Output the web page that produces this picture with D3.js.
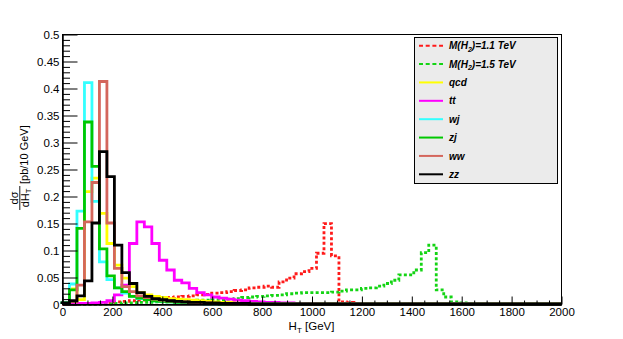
<!DOCTYPE html>
<html>
<head>
<meta charset="utf-8">
<script src="https://cdn.jsdelivr.net/npm/d3@7/dist/d3.min.js"></script>
<style>
    body { margin: 0; background: #fff; }
    svg text { font-family: "Liberation Sans", Arial, Helvetica, sans-serif; }
</style>
</head>
<body>
<div id="chart"></div>
<script>
// histogram bins: 30 GeV wide, first bin starts at 0
const binWidth = 30;

const sig11 = [0, 0, 0, 0, 0, 0.001, 0.002, 0.004, 0.005, 0.006,
    0.007, 0.008, 0.009, 0.011, 0.012, 0.013, 0.014, 0.015, 0.017, 0.018,
    0.020, 0.021, 0.023, 0.025, 0.026, 0.030, 0.031, 0.033, 0.031, 0.041,
    0.048, 0.056, 0.060, 0.066, 0.094, 0.149, 0.089, 0.004, 0.003, 0.001];
const sig15 = [0, 0, 0, 0, 0, 0, 0, 0.001, 0.002, 0.002,
    0.003, 0.003, 0.004, 0.004, 0.005, 0.005, 0.006, 0.006, 0.007, 0.007,
    0.008, 0.008, 0.009, 0.010, 0.012, 0.013, 0.014, 0.015, 0.016, 0.017,
    0.019, 0.020, 0.021, 0.021, 0.021, 0.021, 0.022, 0.024, 0.026, 0.026,
    0.029, 0.030, 0.033, 0.038, 0.044, 0.054, 0.054, 0.063, 0.095, 0.109,
    0.026, 0.013, 0.004, 0.002, 0.001];
const qcd = [0, 0.028, 0.008, 0.208, 0.233, 0.168, 0.112, 0.072, 0.048, 0.032,
    0.021, 0.017, 0.014, 0.012, 0.010, 0.009, 0.008, 0.007, 0.006, 0.005,
    0.004, 0.003, 0.003, 0.002, 0.002, 0.001];
const tt = [0, 0, 0.001, 0.001, 0.002, 0.003, 0.006, 0.017, 0.035, 0.112,
    0.152, 0.143, 0.112, 0.081, 0.063, 0.044, 0.039, 0.029, 0.021, 0.017,
    0.013, 0.011, 0.009, 0.007, 0.006, 0.005, 0.004, 0.003, 0.003, 0.002,
    0.002, 0.001, 0.001, 0.001];
const wj = [0.002, 0.037, 0.172, 0.410, 0.190, 0.078, 0.045, 0.030, 0.020, 0.014,
    0.010, 0.008, 0.006, 0.005, 0.004, 0.003, 0.002, 0.002, 0.001];
const zj = [0.002, 0.026, 0.140, 0.337, 0.255, 0.102, 0.052, 0.030, 0.023, 0.014,
    0.011, 0.008, 0.006, 0.005, 0.004, 0.003, 0.003, 0.002, 0.002, 0.001, 0.001];
const ww = [0, 0.004, 0.035, 0.152, 0.225, 0.412, 0.150, 0.066, 0.032, 0.023,
    0.015, 0.012, 0.009, 0.007, 0.006, 0.005, 0.004, 0.003, 0.002, 0.002,
    0.001, 0.001];
const zz = [0.002, 0.006, 0.015, 0.043, 0.150, 0.282, 0.236, 0.109, 0.058, 0.038,
    0.021, 0.014, 0.010, 0.008, 0.006, 0.005, 0.004, 0.003, 0.003, 0.002,
    0.002, 0.001, 0.001, 0.001, 0.001];

const sampleKeys = ["sig11", "sig15", "qcd", "tt", "wj", "zj", "ww", "zz"];
const sampleValues = [sig11, sig15, qcd, tt, wj, zj, ww, zz];
const legendLabels = ["M(H_2)=1.1 TeV", "M(H_2)=1.5 TeV", "qcd", "tt", "wj", "zj", "ww", "zz"];

const xTickValues = [0, 200, 400, 600, 800, 1000, 1200, 1400, 1600, 1800, 2000];
const yTickValues = [0, 0.05, 0.1, 0.15, 0.2, 0.25, 0.3, 0.35, 0.4, 0.45, 0.5];
const yTickLabels = ["0", "0.05", "0.1", "0.15", "0.2", "0.25", "0.3", "0.35", "0.4", "0.45", "0.5"];

const sampleColors = {
    sig11: "#ff1a1a", sig15: "#14d414", qcd: "#ffff00", tt: "#ff00ff",
    wj: "#33ffff", zj: "#00c800", ww: "#d4665c", zz: "#000000"
};
const dashedSamples = ["sig11", "sig15"];

class HtPlot {

    constructor(parentElement) {
        this.parentElement = parentElement;
        this.initVis();
    }

    initVis() {
        let vis = this;

        vis.totalWidth = 623;
        vis.totalHeight = 339;
        vis.frame = {left: 62, right: 561, top: 34, bottom: 304};

        vis.svg = d3.select("#" + vis.parentElement).append("svg")
            .attr("width", vis.totalWidth)
            .attr("height", vis.totalHeight);

        vis.x = d3.scaleLinear().domain([0, 2000]).range([vis.frame.left, vis.frame.right]);
        vis.y = d3.scaleLinear().domain([0, 0.5]).range([vis.frame.bottom, vis.frame.top]);

        vis.histGroup = vis.svg.append("g").attr("class", "hists");
        vis.axisGroup = vis.svg.append("g").attr("class", "axes");

        vis.wrangleData();
    }

    wrangleData() {
        let vis = this;

        // build step outlines from bins, ending on the baseline out to 2000 GeV
        vis.displayData = sampleKeys.map((key, k) => {
            let vals = sampleValues[k];
            let pts = [[0, 0]];
            vals.forEach((v, i) => {
                pts.push([i * binWidth, v]);
                pts.push([(i + 1) * binWidth, v]);
            });
            pts.push([vals.length * binWidth, 0]);
            pts.push([2000, 0]);
            return {key: key, points: pts};
        });

        vis.updateVis();
    }

    updateVis() {
        let vis = this;

        let line = d3.line()
            .x(d => vis.x(d[0]))
            .y(d => vis.y(d[1]));

        vis.histGroup.selectAll(".hist")
            .data(vis.displayData)
            .join("path")
            .attr("class", "hist")
            .attr("d", d => line(d.points))
            .attr("fill", "none")
            .attr("stroke", d => sampleColors[d.key])
            .attr("stroke-width", 2.8)
            .attr("stroke-linejoin", "miter")
            .attr("stroke-dasharray", d => dashedSamples.includes(d.key) ? "3,2.3" : null);

        // frame
        vis.axisGroup.append("rect")
            .attr("x", vis.frame.left + 0.5)
            .attr("y", vis.frame.top + 0.5)
            .attr("width", vis.frame.right - vis.frame.left)
            .attr("height", vis.frame.bottom - vis.frame.top)
            .attr("fill", "none")
            .attr("stroke", "#000")
            .attr("stroke-width", 1);

        // x axis, ticks pointing into the frame
        let xAxis = d3.axisBottom(vis.x)
            .tickValues(xTickValues)
            .tickSize(-8)
            .tickSizeOuter(0)
            .tickPadding(3)
            .tickFormat(d3.format("d"));
        let xMinor = d3.axisBottom(vis.x)
            .tickValues(d3.range(0, 2001, 50).filter(v => v % 200 !== 0))
            .tickSize(-4)
            .tickSizeOuter(0)
            .tickFormat("");

        vis.axisGroup.append("g")
            .attr("transform", `translate(0.5, ${vis.frame.bottom + 0.5})`)
            .call(xMinor);
        vis.axisGroup.append("g")
            .attr("class", "x-axis")
            .attr("transform", `translate(0.5, ${vis.frame.bottom + 0.5})`)
            .call(xAxis);

        // y axis
        let yAxis = d3.axisLeft(vis.y)
            .tickValues(yTickValues)
            .tickSize(-15)
            .tickSizeOuter(0)
            .tickPadding(3)
            .tickFormat((d, i) => yTickLabels[i]);
        let yMinor = d3.axisLeft(vis.y)
            .tickValues(d3.range(0, 0.5001, 0.01).filter((v, i) => i % 5 !== 0))
            .tickSize(-7.5)
            .tickSizeOuter(0)
            .tickFormat("");

        vis.axisGroup.append("g")
            .attr("transform", `translate(${vis.frame.left + 0.5}, 0.5)`)
            .call(yMinor);
        vis.axisGroup.append("g")
            .attr("class", "y-axis")
            .attr("transform", `translate(${vis.frame.left + 0.5}, 0.5)`)
            .call(yAxis);

        vis.axisGroup.selectAll(".domain").attr("stroke", "#000");
        vis.axisGroup.selectAll(".tick line").attr("stroke", "#000");
        vis.axisGroup.selectAll(".tick text")
            .attr("font-size", 11.5)
            .attr("fill", "#000")
            .style("font-family", '"Liberation Sans", Arial, sans-serif');

        // x title
        let xt = vis.svg.append("text")
            .attr("x", (vis.frame.left + vis.frame.right) / 2)
            .attr("y", 330)
            .attr("text-anchor", "middle")
            .attr("font-size", 11.5);
        xt.append("tspan").text("H");
        xt.append("tspan").attr("font-size", 8).attr("dy", 3).text("T");
        xt.append("tspan").attr("dy", -3).text(" [GeV]");

        // y title: d sigma / d H_T [pb/10 GeV]
        let yt = vis.svg.append("g")
            .attr("transform", "rotate(-90)");
        yt.append("text")
            .attr("x", -198).attr("y", 17.5)
            .attr("text-anchor", "middle")
            .attr("font-size", 11)
            .text("dσ");
        yt.append("line")
            .attr("x1", -210).attr("x2", -186)
            .attr("y1", 19.8).attr("y2", 19.8)
            .attr("stroke", "#000").attr("stroke-width", 0.9);
        let den = yt.append("text")
            .attr("x", -198).attr("y", 28.5)
            .attr("text-anchor", "middle")
            .attr("font-size", 11);
        den.append("tspan").text("dH");
        den.append("tspan").attr("font-size", 7.5).attr("dy", 2.5).text("T");
        yt.append("text")
            .attr("x", -184).attr("y", 27.5)
            .attr("font-size", 11)
            .text("[pb/10 GeV]");

        vis.drawLegend();
    }

    drawLegend() {
        let vis = this;

        let rowY = d3.scalePoint().domain(sampleKeys).range([45.7, 174.3]);

        let lg = vis.svg.append("g").attr("class", "legend");
        lg.append("rect")
            .attr("x", 414.5).attr("y", 37.5)
            .attr("width", 143).attr("height", 146)
            .attr("fill", "#ebebeb")
            .attr("stroke", "#000")
            .attr("stroke-width", 1);

        let rows = lg.selectAll(".row")
            .data(sampleKeys)
            .join("g")
            .attr("class", "row")
            .attr("transform", d => `translate(0, ${rowY(d)})`);

        rows.append("line")
            .attr("x1", 419).attr("x2", 443)
            .attr("y1", 0).attr("y2", 0)
            .attr("stroke", d => sampleColors[d])
            .attr("stroke-width", 2)
            .attr("stroke-dasharray", d => dashedSamples.includes(d) ? "4,2.7" : null);

        rows.each(function (d, i) {
            let t = d3.select(this).append("text")
                .attr("x", 449).attr("y", 3.6)
                .attr("font-size", 10)
                .attr("font-weight", "bold")
                .attr("font-style", "italic");
            let parts = legendLabels[i].split("_");
            t.append("tspan").text(parts[0]);
            if (parts.length > 1) {
                t.append("tspan").attr("font-size", 7).attr("dy", 2.5).text(parts[1].charAt(0));
                t.append("tspan").attr("dy", -2.5).text(parts[1].slice(1));
            }
        });
    }
}

new HtPlot("chart");
</script>
</body>
</html>
